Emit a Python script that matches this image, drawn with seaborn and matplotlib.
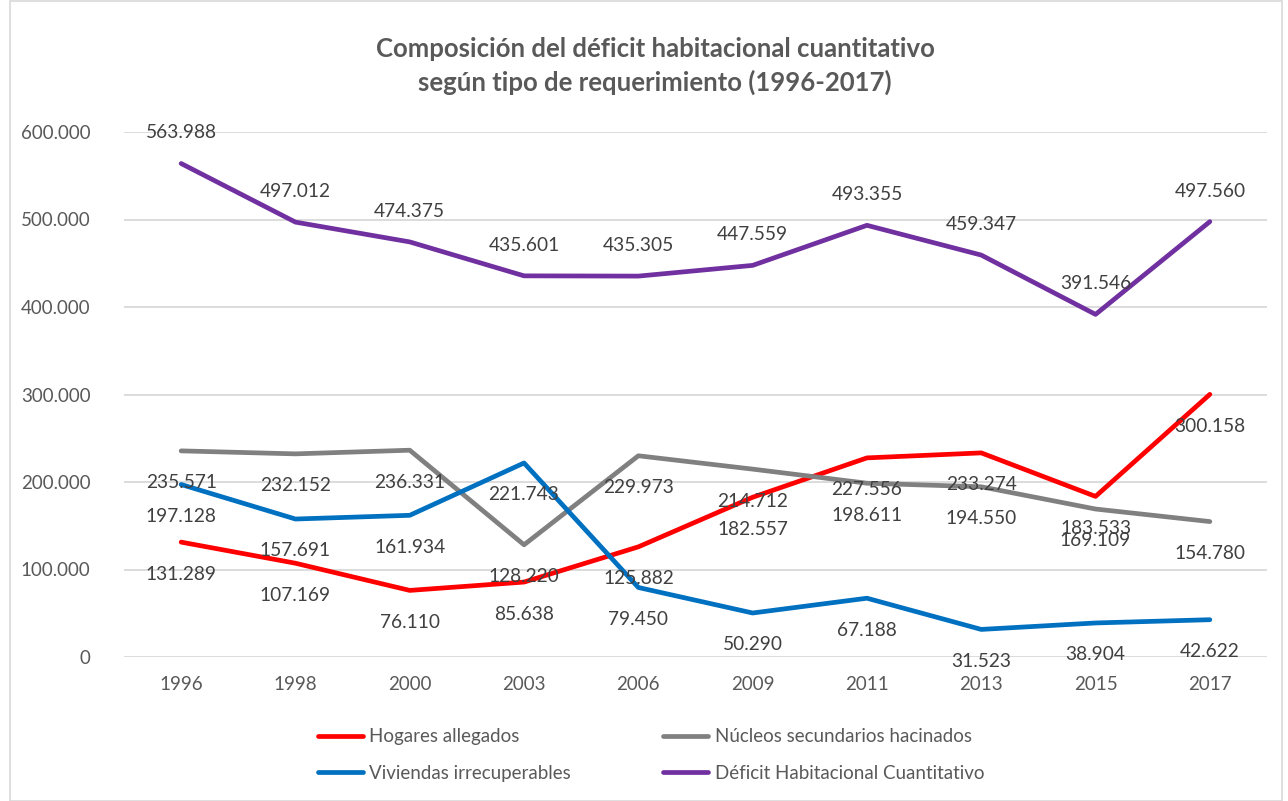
import pandas as pd
import matplotlib.pyplot as plt
import seaborn as sns
from matplotlib.lines import Line2D
from matplotlib.patches import Rectangle

# datos
anios = ["1996", "1998", "2000", "2003", "2006", "2009", "2011", "2013", "2015", "2017"]
hogares = [131289, 107169, 76110, 85638, 125882, 182557, 227556, 233274, 183533, 300158]
nucleos = [235571, 232152, 236331, 128220, 229973, 214712, 198611, 194550, 169109, 154780]
viviendas = [197128, 157691, 161934, 221743, 79450, 50290, 67188, 31523, 38904, 42622]
deficit = [563988, 497012, 474375, 435601, 435305, 447559, 493355, 459347, 391546, 497560]

series = ["Hogares allegados", "Núcleos secundarios hacinados",
          "Viviendas irrecuperables", "Déficit Habitacional Cuantitativo"]
valores = [hogares, nucleos, viviendas, deficit]
colores = ["#FF0000", "#808080", "#0070C0", "#7030A0"]
# posición de la etiqueta: debajo (-) o encima (+)
offsets = [-23, -23, -23, 22]

sns.set_theme(style="white")
plt.rcParams["font.family"] = ["Lato", "DejaVu Sans"]

TXT = "#595959"

rows = []
for nombre, vals in zip(series, valores):
    for i, v in enumerate(vals):
        rows.append({"pos": i, "valor": v, "serie": nombre})
df = pd.DataFrame(rows)

fig = plt.figure(figsize=(12.88, 8.01), dpi=100)
ax = fig.add_axes([124 / 1288, 1 - 657 / 801, (1267 - 124) / 1288, (657 - 132) / 801])

sns.lineplot(data=df, x="pos", y="valor", hue="serie", hue_order=series,
             palette=colores, linewidth=3.4, legend=False, ax=ax, sort=False)

for nombre, vals, off in zip(series, valores, offsets):
    for i, v in enumerate(vals):
        ax.annotate(f"{v:,}".replace(",", "."), (i, v), xytext=(0, off),
                    textcoords="offset points", ha="center", va="center",
                    fontsize=13.8, color="#404040")

ax.set_xlim(-0.5, len(anios) - 0.5)
ax.set_ylim(0, 600000)
ax.set_xticks(range(len(anios)))
ax.set_xticklabels(anios)
ax.set_yticks(range(0, 600001, 100000))
ax.set_yticklabels([f"{t:,}".replace(",", ".") for t in range(0, 600001, 100000)])
ax.tick_params(axis="both", labelsize=13.5, labelcolor=TXT, length=0)
ax.tick_params(axis="x", pad=14)
ax.tick_params(axis="y", pad=24)
ax.grid(axis="y", color="#D9D9D9", linewidth=1.3)
ax.set_axisbelow(True)
for s in ax.spines.values():
    s.set_visible(False)
ax.set_xlabel("")
ax.set_ylabel("")

fig.text(655 / 1288, 1 - 66 / 801,
         "Composición del déficit habitacional cuantitativo\nsegún tipo de requerimiento (1996-2017)",
         ha="center", va="center", fontsize=18.5, fontweight="bold", color=TXT,
         linespacing=1.4)

orden = [0, 2, 1, 3]
handles = [Line2D([], [], color=colores[k], linewidth=3.4) for k in orden]
labels = [series[k] for k in orden]
fig.legend(handles, labels, ncol=2, loc="center", bbox_to_anchor=(651 / 1288, 1 - 755 / 801),
           frameon=False, fontsize=13.5, labelcolor=TXT, handlelength=2.4,
           handletextpad=0.35, columnspacing=4.9, labelspacing=1.05)

fig.patches.append(Rectangle((10 / 1288, 0), 1272 / 1288, 0.999, transform=fig.transFigure,
                             fill=False, edgecolor="#D9D9D9", linewidth=1.2))

fig.savefig("out.png", dpi=100)
